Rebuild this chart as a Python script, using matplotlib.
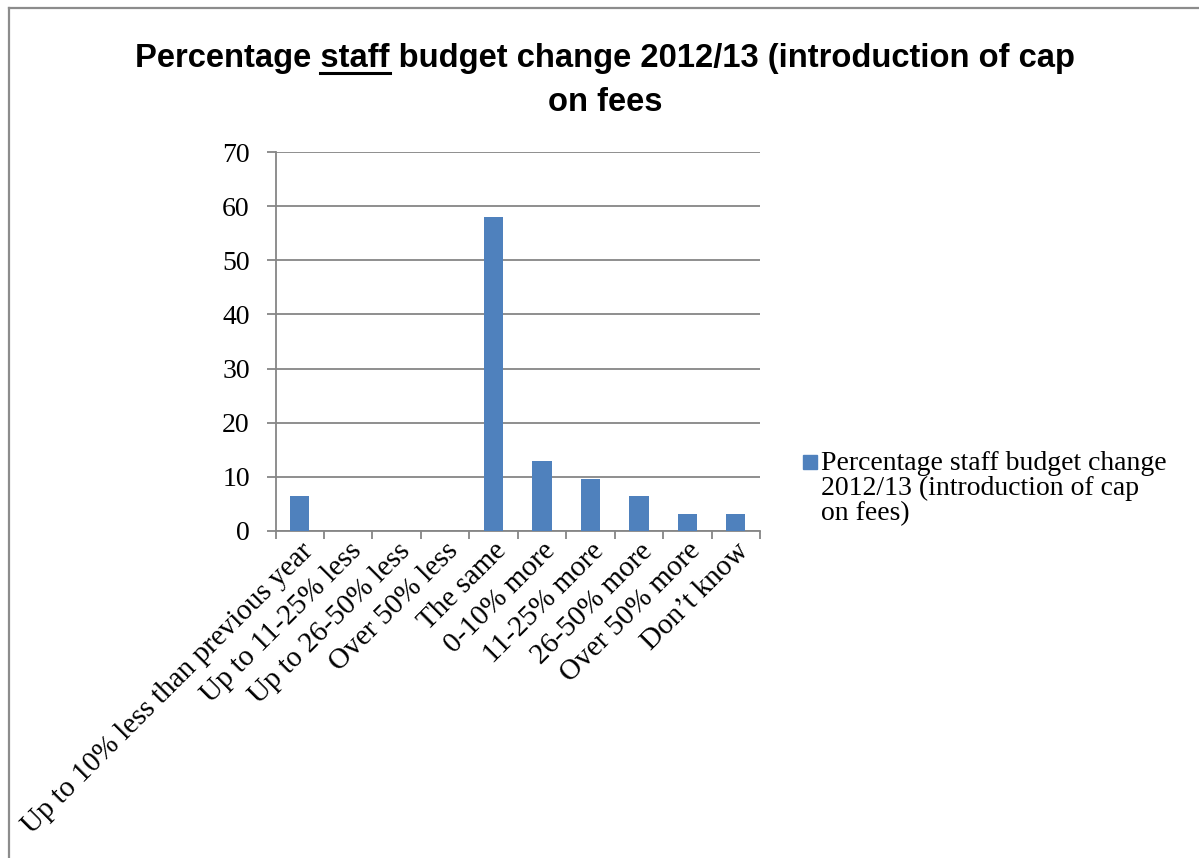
import matplotlib.pyplot as plt
from matplotlib.lines import Line2D

# survey answers (share of respondents, %)
categories = ["Up to 10% less than previous year", "Up to 11-25% less",
              "Up to 26-50% less", "Over 50% less", "The same",
              "0-10% more", "11-25% more", "26-50% more", "Over 50% more",
              "Don\u2019t know"]
values = [6.45, 0, 0, 0, 58.06, 12.9, 9.68, 6.45, 3.23, 3.23]
y_ticks = [0, 10, 20, 30, 40, 50, 60, 70]

series_name = "Percentage staff budget change\n2012/13 (introduction of cap\non fees)"
title_line1 = "Percentage staff budget change 2012/13 (introduction of cap"
title_line2 = "on fees"

BAR = "#4F81BD"
GREY = "#868686"
SERIF = ["Liberation Serif", "DejaVu Serif"]
SANS = ["Liberation Sans", "DejaVu Sans"]
FS = 20

W, H = 1199, 858
fig = plt.figure(figsize=(W / 100, H / 100), dpi=100)

# chart area frame (only top/left edges fall inside the picture)
fig.add_artist(Line2D([8.5 / W, 8.5 / W], [0, 1 - 8 / H], color="#8c8c8c",
                      lw=1.6, transform=fig.transFigure))
fig.add_artist(Line2D([8.5 / W, 1], [1 - 8 / H, 1 - 8 / H], color="#8c8c8c",
                      lw=1.6, transform=fig.transFigure))

left, right, bottom, top = 275.5, 760, 531, 152
ax = fig.add_axes([left / W, 1 - bottom / H, (right - left) / W, (bottom - top) / H])

x = range(len(categories))
ax.bar(x, values, width=0.4, color=BAR, zorder=3)

ax.set_xlim(-0.5, len(categories) - 0.5)
ax.set_ylim(0, 70)
ax.set_yticks(y_ticks)
ax.yaxis.grid(True, color=GREY, lw=1.3, zorder=0)
ax.tick_params(axis="y", length=6.5, width=1.3, color=GREY, pad=12, labelsize=FS)
for lab in ax.get_yticklabels():
    lab.set_fontfamily(SERIF)

ax.set_xticks(list(x))
ax.set_xticklabels(categories, rotation=45, ha="right", va="top",
                   rotation_mode="anchor", fontsize=21, family=SERIF)
ax.tick_params(axis="x", which="major", length=0, pad=5)
ax.set_xticks([i - 0.5 for i in range(len(categories) + 1)], minor=True)
ax.tick_params(axis="x", which="minor", length=6, width=1.3, color=GREY)

for side in ["top", "right"]:
    ax.spines[side].set_visible(False)
for side in ["left", "bottom"]:
    ax.spines[side].set_color(GREY)
    ax.spines[side].set_linewidth(1.3)

# legend: one square swatch plus wrapped series name
fig.patches.append(plt.Rectangle((803 / W, 1 - 469 / H), 14 / W, 14 / H,
                                 color=BAR, transform=fig.transFigure))
for i, line in enumerate(series_name.split("\n")):
    fig.text(821 / W, 1 - (470 + 25 * i) / H, line, family=SERIF, fontsize=FS,
             va="baseline", ha="left")

# title, with "staff" underlined; size chosen so the first line spans ~940 px
renderer = fig.canvas.get_renderer()
tkw = dict(family=SANS, fontweight="bold", ha="center", va="baseline")

def text_width(s, size):
    t = fig.text(0, 0, s, fontsize=size, **tkw)
    w = t.get_window_extent(renderer).width
    t.remove()
    return w

tsize = 20 * 940 / text_width(title_line1, 20)
cx = 605 / W
fig.text(cx, 1 - 67 / H, title_line1, fontsize=tsize, **tkw)
fig.text(cx, 1 - 111 / H, title_line2, fontsize=tsize, **tkw)

full_w = text_width(title_line1, tsize)
pre_w = text_width("Percentage staff", tsize)
staff_w = text_width("staff", tsize)
x0 = cx * W - full_w / 2 + pre_w - staff_w
x1 = cx * W - full_w / 2 + pre_w
uy = 1 - 73 / H
fig.add_artist(Line2D([x0 / W, x1 / W], [uy, uy], color="black", lw=2.2,
                      transform=fig.transFigure))

fig.savefig("out.png", dpi=100)
